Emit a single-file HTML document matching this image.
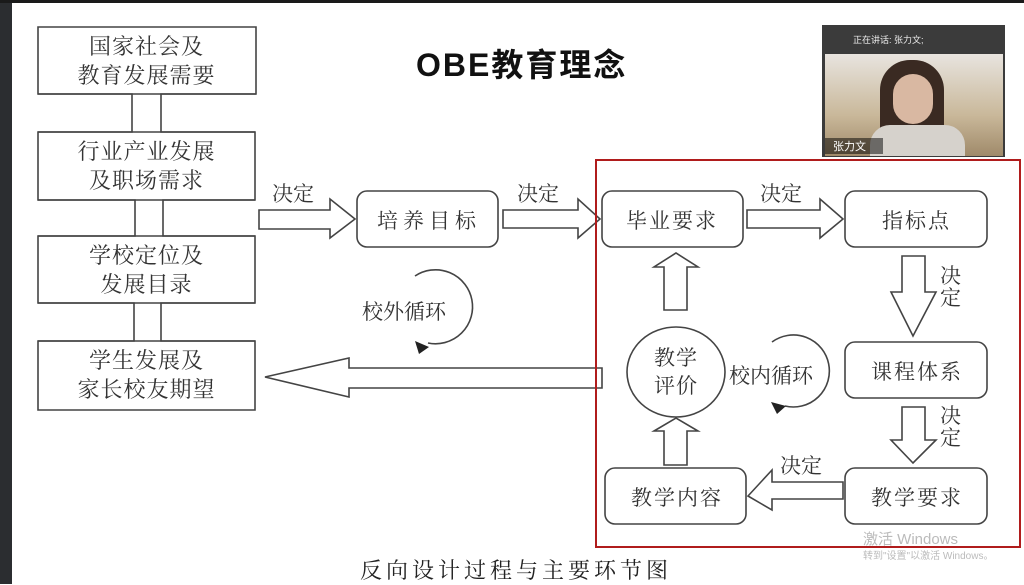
<!DOCTYPE html>
<html><head><meta charset="utf-8"><style>
body{margin:0;width:1024px;height:584px;overflow:hidden;background:#fff;position:relative;font-family:"Liberation Serif","Noto Serif CJK SC",serif;}
.a{position:absolute}
.t{position:absolute;color:#333;font-size:21px;white-space:nowrap}
.L{font-size:22px;letter-spacing:1px;line-height:29px;text-align:center;width:217px;left:38px}
.B{letter-spacing:2px}
</style></head><body>
<div class="a" style="left:0;top:0;width:12px;height:584px;background:#2b2d30"></div>
<div class="a" style="left:0;top:0;width:1024px;height:3px;background:#1a1a1a"></div>
<svg class="a" style="left:0;top:0" width="1024" height="584" fill="none" stroke="#444" stroke-width="1.6">
<path d="M38 27H256V94H161V132H255V200H163V236H255V303H161V341H255V410H38V341H134V303H38V236H135V200H38V132H132V94H38Z" fill="#fff"/>
<line x1="38" y1="132" x2="255" y2="132"/><line x1="38" y1="200" x2="255" y2="200"/>
<line x1="38" y1="236" x2="255" y2="236"/><line x1="38" y1="303" x2="255" y2="303"/>
<line x1="38" y1="341" x2="255" y2="341"/><line x1="38" y1="94" x2="256" y2="94"/>
<rect x="357" y="191" width="141" height="56" rx="10"/>
<rect x="602" y="191" width="141" height="56" rx="10"/>
<rect x="845" y="191" width="142" height="56" rx="10"/>
<rect x="845" y="342" width="142" height="56" rx="10"/>
<rect x="845" y="468" width="142" height="56" rx="10"/>
<rect x="605" y="468" width="141" height="56" rx="10"/>
<ellipse cx="676" cy="372" rx="49" ry="45"/>
<path d="M259 210H330V199L355 219L330 238V229H259Z"/>
<path d="M503 210H578V199L600 219L578 238V228H503Z"/>
<path d="M747 210H820V199L843 219L820 238V228H747Z"/>
<path d="M902 256H925V292H936L913 336L891 292H902Z"/>
<path d="M902 407H925V440H936L913 463L891 440H902Z"/>
<path d="M843 482H772V470L748 496L772 510V499H843Z"/>
<path d="M664 465H687V431H698L676 418L654 431H664Z"/>
<path d="M664 310H687V267H698L676 253L654 267H664Z"/>
<path d="M602 368H349V358L265 377L349 397V388H602Z"/>
<path d="M415 276A37 37 0 1 1 428 343"/>
<path d="M415 341l14 6l-10 7z" fill="#222" stroke="none"/>
<path d="M772 342A36 36 0 1 1 785 406"/>
<path d="M771 402l15 4l-9 8z" fill="#222" stroke="none"/>
<rect x="596" y="160" width="424" height="387" stroke="#b01c1c" stroke-width="2"/>
</svg>
<div class="t L" style="top:32px">国家社会及<br>教育发展需要</div>
<div class="t L" style="top:137px">行业产业发展<br>及职场需求</div>
<div class="t L" style="top:241px">学校定位及<br>发展目录</div>
<div class="t L" style="top:346px">学生发展及<br>家长校友期望</div>
<div class="t" style="left:272px;top:178px">决定</div>
<div class="t" style="left:517px;top:178px">决定</div>
<div class="t" style="left:760px;top:178px">决定</div>
<div class="t" style="left:780px;top:450px">决定</div>
<div class="t" style="left:940px;top:265px;line-height:22px;width:22px">决<br>定</div>
<div class="t" style="left:940px;top:405px;line-height:22px;width:22px">决<br>定</div>
<div class="t" style="left:377px;top:205px;letter-spacing:5px">培养目标</div>
<div class="t B" style="left:626px;top:205px">毕业要求</div>
<div class="t B" style="left:882px;top:205px">指标点</div>
<div class="t B" style="left:871px;top:356px">课程体系</div>
<div class="t B" style="left:871px;top:482px">教学要求</div>
<div class="t B" style="left:631px;top:482px">教学内容</div>
<div class="t" style="left:654px;top:344px;line-height:28px;letter-spacing:1px">教学<br>评价</div>
<div class="t" style="left:729px;top:360px">校内循环</div>
<div class="t" style="left:362px;top:296px">校外循环</div>
<div class="a" style="left:416px;top:40px;font:bold 32px 'Liberation Sans','Noto Sans CJK SC',sans-serif;color:#111;letter-spacing:2px">OBE教育理念</div>
<div class="t" style="left:360px;top:554px;font-size:22px;letter-spacing:4px;color:#222">反向设计过程与主要环节图</div>
<div class="a" style="left:863px;top:528px;font:15px 'Liberation Sans',sans-serif;color:#bbb">激活 Windows</div>
<div class="a" style="left:863px;top:547px;font:10px 'Liberation Sans','Noto Sans CJK SC',sans-serif;color:#bbb">转到"设置"以激活 Windows。</div>
<div class="a" style="left:822px;top:25px;width:183px;height:132px;background:#3b3b3b"></div>
<div class="a" style="left:853px;top:33px;font:9px 'Liberation Sans','Noto Sans CJK SC',sans-serif;color:#eee">正在讲话: 张力文;</div>
<div class="a" style="left:825px;top:54px;width:178px;height:102px;background:linear-gradient(#e8e4df,#c9b89a 60%,#a08a6a)"></div>
<div class="a" style="left:880px;top:60px;width:64px;height:80px;border-radius:30px 30px 10px 10px;background:#3a2a22"></div>
<div class="a" style="left:893px;top:74px;width:40px;height:50px;border-radius:20px;background:#d9b8a2"></div>
<div class="a" style="left:870px;top:125px;width:95px;height:31px;border-radius:20px 20px 0 0;background:#d6d2cc"></div>
<div class="a" style="left:825px;top:138px;width:50px;height:16px;background:rgba(0,0,0,.5);font:11px 'Liberation Sans','Noto Sans CJK SC',sans-serif;color:#fff;padding-left:8px">张力文</div>
</body></html>
